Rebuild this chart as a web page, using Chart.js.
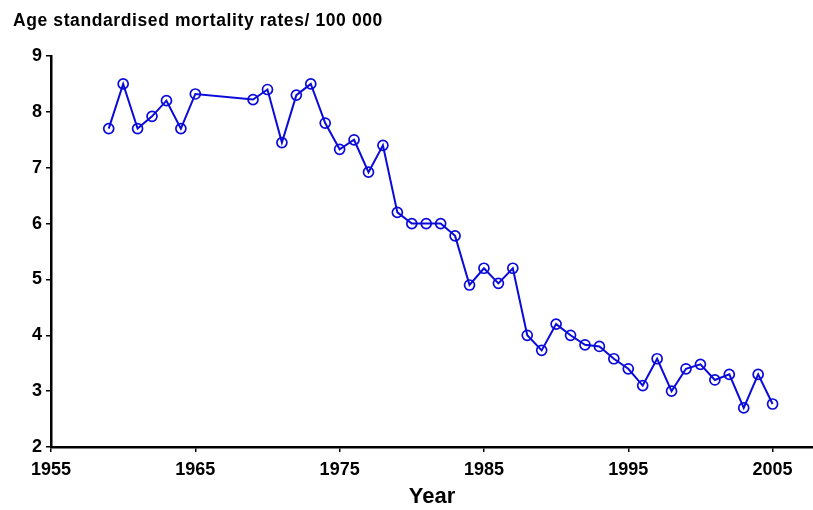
<!DOCTYPE html>
<html>
<head>
<meta charset="utf-8">
<script src="https://cdn.jsdelivr.net/npm/chart.js@4/dist/chart.umd.min.js"></script>
<style>
  html, body { margin: 0; padding: 0; background: #fff; overflow: hidden; }
  #wrap { width: 813px; height: 510px; position: relative; }
</style>
</head>
<body>
<div id="wrap"><canvas id="rateChart"></canvas></div>
<script>
// data
const years = [1959, 1960, 1961, 1962, 1963, 1964, 1965, 1969, 1970, 1971, 1972, 1973, 1974,
    1975, 1976, 1977, 1978, 1979, 1980, 1981, 1982, 1983, 1984, 1985, 1986, 1987, 1988, 1989,
    1990, 1991, 1992, 1993, 1994, 1995, 1996, 1997, 1998, 1999, 2000, 2001, 2002, 2003, 2004, 2005];
const rates = [7.7, 8.5, 7.7, 7.92, 8.2, 7.7, 8.32, 8.22, 8.4, 7.45, 8.3, 8.5, 7.8,
    7.33, 7.5, 6.92, 7.4, 6.2, 6.0, 6.0, 6.0, 5.78, 4.9, 5.2, 4.93, 5.2, 4.0, 3.73,
    4.2, 4.0, 3.83, 3.8, 3.58, 3.4, 3.1, 3.58, 3.0, 3.4, 3.48, 3.2, 3.3, 2.7, 3.3, 2.77];
const xTicks = [1955, 1965, 1975, 1985, 1995, 2005];
const chartTitle = 'Age standardised mortality rates/ 100 000';

const blue = '#0a0ada';
const fontFamily = '"Liberation Sans", Arial, sans-serif';

const titlePlugin = {
    id: 'topTitle',
    afterDraw(chart) {
        const ctx = chart.ctx;
        ctx.save();
        ctx.fillStyle = '#000';
        ctx.font = 'bold 17.5px ' + fontFamily;
        ctx.letterSpacing = '0.6px';
        ctx.textBaseline = 'alphabetic';
        ctx.fillText(chartTitle, 13, 26);
        ctx.restore();
    }
};

const ctx = document.getElementById('rateChart').getContext('2d');
new Chart(ctx, {
    type: 'line',
    data: {
        datasets: [{
            data: years.map((y, i) => ({ x: y, y: rates[i] })),
            borderColor: blue,
            borderWidth: 2,
            pointRadius: 5,
            pointBorderWidth: 1.7,
            pointBorderColor: blue,
            pointBackgroundColor: 'rgba(0,0,0,0)',
            tension: 0,
            clip: false
        }]
    },
    options: {
        responsive: true,
        maintainAspectRatio: false,
        animation: false,
        layout: { autoPadding: false, padding: { top: 56, right: 0, left: 0, bottom: 0 } },
        plugins: {
            legend: { display: false },
            tooltip: { enabled: false }
        },
        scales: {
            x: {
                type: 'linear',
                min: 1955,
                max: 2007.8,
                afterBuildTicks: scale => { scale.ticks = xTicks.map(v => ({ value: v })); },
                afterFit: scale => {
                    scale.height = 63;
                    scale.paddingLeft = 0;
                    scale.paddingRight = 0;
                },
                grid: { drawOnChartArea: false, drawTicks: true, tickLength: 5, color: '#000', lineWidth: 1.5 },
                border: { display: true, color: '#000', width: 2.5 },
                ticks: {
                    color: '#000',
                    font: { family: fontFamily, size: 18, weight: 'bold' },
                    padding: 7,
                    maxRotation: 0,
                    callback: v => String(v)
                },
                title: {
                    display: true,
                    text: 'Year',
                    color: '#000',
                    font: { family: fontFamily, size: 22, weight: 'bold' },
                    padding: { top: 3, bottom: 0 }
                }
            },
            y: {
                min: 2,
                max: 9,
                afterFit: scale => {
                    scale.width = 51;
                    scale.paddingTop = 0;
                    scale.paddingBottom = 0;
                },
                grid: { drawOnChartArea: false, drawTicks: true, tickLength: 5, color: '#000', lineWidth: 1.5 },
                border: { display: true, color: '#000', width: 2.5 },
                ticks: {
                    stepSize: 1,
                    color: '#000',
                    font: { family: fontFamily, size: 18, weight: 'bold' },
                    padding: 4
                }
            }
        }
    },
    plugins: [titlePlugin]
});
</script>
</body>
</html>
